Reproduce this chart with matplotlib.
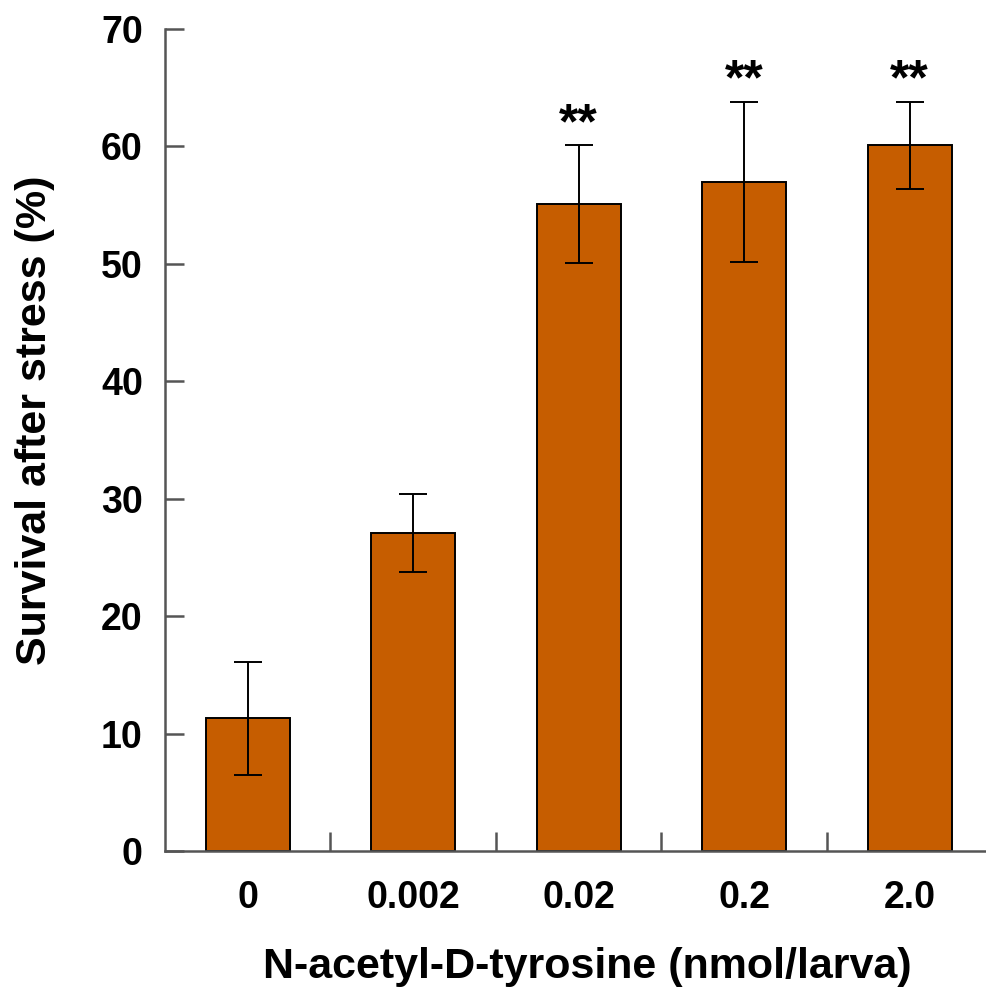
import matplotlib.pyplot as plt

plt.rcParams['font.family'] = ['Liberation Sans', 'DejaVu Sans']
plt.rcParams['font.weight'] = 'bold'

# dose groups and survival (%) with error
doses = ["0", "0.002", "0.02", "0.2", "2.0"]
survival = [11.3, 27.1, 55.1, 57.0, 60.1]
err = [4.8, 3.3, 5.0, 6.8, 3.7]
signif = ["", "", "**", "**", "**"]

fig = plt.figure(figsize=(9.86, 9.89), dpi=100)
# axes runs a little past the right edge, so the x axis line is cut by the border
ax = fig.add_axes([165/986, 1 - 851/989, 845/986, (851 - 29)/989])

x = list(range(len(doses)))
ax.bar(x, survival, width=0.51, color='#C65D00', edgecolor='black', linewidth=1.4,
       yerr=err, capsize=10, error_kw=dict(elinewidth=1.4, capthick=1.4, ecolor='black'),
       zorder=2)

for xi, v, e, s in zip(x, survival, err, signif):
    if s:
        ax.text(xi, v + e + 0.6, s, ha='center', va='baseline', fontsize=36, fontweight='bold')

ax.set_xlim(-0.5, 4.606)
ax.set_ylim(0, 70)
ax.set_yticks(range(0, 71, 10))
ax.set_xticks(x)
ax.set_xticklabels(doses)
ax.set_xticks([i + 0.5 for i in range(len(doses) - 1)], minor=True)

for side in ['top', 'right']:
    ax.spines[side].set_visible(False)
for side in ['left', 'bottom']:
    ax.spines[side].set_color('#555555')
    ax.spines[side].set_linewidth(1.8)

ax.tick_params(axis='y', direction='in', length=14, width=1.8, color='#555555',
               labelsize=27, pad=16)
ax.tick_params(axis='x', which='major', length=0, labelsize=27, pad=21)
ax.tick_params(axis='x', which='minor', direction='in', length=14, width=1.8, color='#555555')

ax.set_xlabel("N-acetyl-D-tyrosine (nmol/larva)", fontsize=31, fontweight='bold', labelpad=22)
ax.set_ylabel("Survival after stress (%)", fontsize=31, fontweight='bold')
ax.yaxis.set_label_coords(-0.130, 0.524)

plt.savefig("out.png", dpi=100)
